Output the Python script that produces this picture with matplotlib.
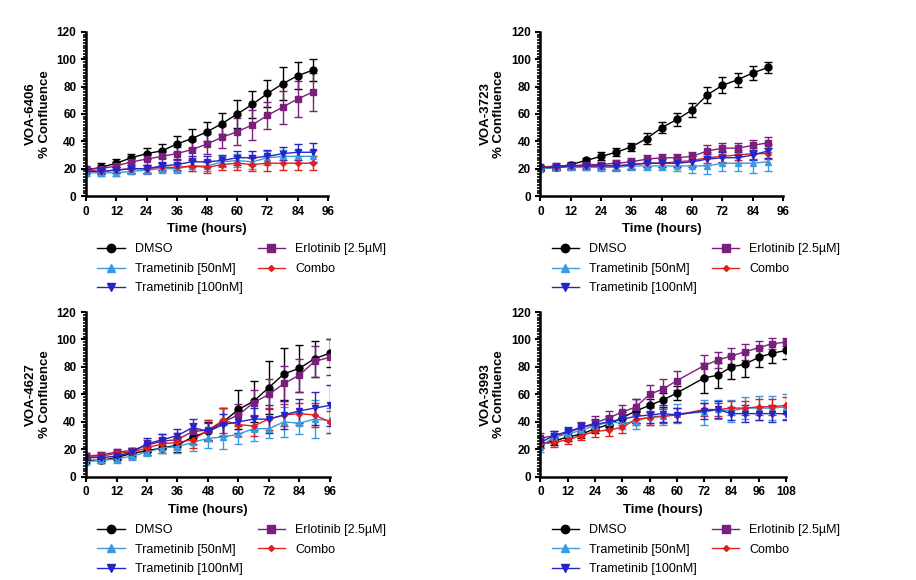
import numpy as np
import matplotlib.pyplot as plt
from matplotlib.lines import Line2D
from matplotlib.ticker import MultipleLocator

plt.rcParams['font.family'] = 'Liberation Sans'

STYLE = {
    'DMSO': dict(color='black', marker='o'),
    'Erlotinib [2.5µM]': dict(color='#7b1f7e', marker='s'),
    'Trametinib [50nM]': dict(color='#3a9ae0', marker='^'),
    'Combo': dict(color='#e0201e', marker='D', markersize=3),
    'Trametinib [100nM]': dict(color='#2424c8', marker='v'),
}
ORDER = ['DMSO', 'Erlotinib [2.5µM]', 'Trametinib [50nM]', 'Combo', 'Trametinib [100nM]']
LEGEND_ORDER = ['DMSO', 'Trametinib [50nM]', 'Trametinib [100nM]', 'Erlotinib [2.5µM]', 'Combo']

t90 = np.arange(0, 91, 6)
t96 = np.arange(0, 97, 6)
t108 = np.array([0, 6, 12, 18, 24, 30, 36, 42, 48, 54, 60, 72, 78, 84, 90, 96, 102, 108])

panels = [
    dict(name='VOA-6406', t=t90, xmax=96, pos=[0.094, 0.662, 0.264, 0.283], data={
        'DMSO': ([19, 21, 24, 28, 31, 33, 38, 42, 47, 53, 60, 67, 75, 82, 88, 92],
                 [2, 3, 3, 3, 4, 5, 6, 7, 7, 8, 10, 10, 10, 12, 10, 8]),
        'Erlotinib [2.5µM]': ([20, 20, 22, 25, 27, 29, 31, 34, 38, 43, 47, 52, 59, 65, 71, 76],
                              [2, 3, 3, 4, 4, 5, 5, 6, 7, 8, 10, 11, 10, 12, 13, 14]),
        'Trametinib [50nM]': ([17, 17, 17, 18, 19, 20, 20, 22, 22, 25, 26, 25, 28, 29, 29, 29],
                              [2, 2, 2, 2, 3, 3, 3, 4, 4, 4, 5, 5, 5, 5, 5, 5]),
        'Combo': ([19, 18, 19, 20, 20, 21, 21, 22, 21, 23, 24, 23, 24, 24, 24, 24],
                  [2, 2, 2, 3, 3, 3, 3, 4, 4, 4, 5, 5, 6, 5, 5, 5]),
        'Trametinib [100nM]': ([18, 18, 19, 20, 20, 22, 23, 25, 25, 26, 28, 28, 29, 31, 32, 32],
                               [2, 2, 2, 3, 3, 3, 4, 4, 4, 4, 5, 5, 5, 5, 6, 7]),
    }),
    dict(name='VOA-3723', t=t90, xmax=96, pos=[0.590, 0.662, 0.265, 0.283], data={
        'DMSO': ([20, 21, 23, 26, 29, 32, 36, 42, 50, 56, 63, 74, 81, 85, 90, 94],
                 [2, 2, 2, 2, 3, 3, 3, 4, 4, 5, 5, 6, 6, 5, 5, 4]),
        'Erlotinib [2.5µM]': ([21, 22, 22, 23, 23, 24, 25, 27, 28, 28, 29, 33, 35, 35, 37, 39],
                              [2, 2, 2, 2, 2, 2, 3, 3, 3, 3, 3, 4, 4, 4, 4, 4]),
        'Trametinib [50nM]': ([20, 21, 21, 21, 21, 21, 22, 22, 22, 22, 22, 22, 24, 24, 24, 25],
                              [2, 2, 2, 2, 3, 3, 3, 3, 3, 4, 5, 6, 6, 6, 7, 7]),
        'Combo': ([21, 21, 22, 22, 22, 22, 23, 24, 24, 25, 26, 28, 29, 30, 31, 31],
                  [2, 2, 2, 2, 2, 3, 3, 3, 3, 3, 3, 4, 4, 4, 4, 4]),
        'Trametinib [100nM]': ([21, 21, 22, 22, 22, 22, 23, 24, 24, 24, 25, 27, 28, 28, 30, 33],
                               [2, 2, 2, 2, 2, 3, 3, 3, 3, 3, 4, 4, 4, 4, 4, 5]),
    }),
    dict(name='VOA-4627', t=t96, xmax=96, pos=[0.094, 0.178, 0.266, 0.284], data={
        'DMSO': ([12, 12, 14, 17, 19, 21, 23, 29, 33, 40, 49, 55, 65, 75, 79, 86, 90],
                 [2, 2, 2, 3, 3, 4, 5, 5, 7, 10, 14, 15, 19, 19, 17, 13, 10]),
        'Erlotinib [2.5µM]': ([15, 16, 18, 19, 23, 26, 27, 33, 34, 40, 45, 54, 60, 68, 74, 84, 87],
                              [2, 2, 2, 2, 4, 5, 5, 6, 7, 10, 8, 9, 11, 13, 12, 11, 13]),
        'Trametinib [50nM]': ([11, 12, 13, 15, 18, 21, 22, 25, 28, 29, 31, 35, 35, 40, 39, 42, 41],
                              [2, 2, 3, 3, 3, 4, 5, 6, 7, 9, 7, 9, 7, 11, 8, 14, 9]),
        'Combo': ([15, 15, 17, 18, 21, 24, 25, 27, 34, 41, 38, 37, 42, 45, 46, 45, 40],
                  [2, 2, 2, 3, 3, 4, 5, 6, 7, 9, 8, 7, 8, 8, 8, 9, 8]),
        'Trametinib [100nM]': ([14, 14, 15, 18, 24, 27, 30, 36, 33, 38, 40, 42, 42, 45, 48, 50, 52],
                               [2, 2, 2, 3, 4, 4, 5, 6, 6, 8, 8, 8, 10, 10, 9, 12, 15]),
    }),
    dict(name='VOA-3993', t=t108, xmax=108, pos=[0.590, 0.178, 0.268, 0.284], data={
        'DMSO': ([24, 26, 29, 31, 35, 38, 43, 48, 52, 56, 61, 72, 74, 80, 82, 87, 90, 92],
                 [3, 3, 3, 3, 3, 3, 4, 9, 5, 5, 5, 11, 9, 9, 9, 7, 7, 6]),
        'Erlotinib [2.5µM]': ([28, 30, 32, 36, 39, 43, 47, 51, 60, 64, 70, 81, 85, 88, 91, 94, 97, 98],
                              [4, 3, 3, 4, 5, 5, 5, 6, 7, 7, 7, 8, 6, 6, 6, 5, 4, 3]),
        'Trametinib [50nM]': ([22, 29, 31, 34, 37, 40, 39, 40, 44, 44, 46, 47, 49, 48, 50, 50, 50, 51],
                              [4, 3, 3, 3, 4, 4, 4, 5, 6, 6, 7, 9, 7, 8, 8, 9, 9, 9]),
        'Combo': ([24, 25, 27, 30, 33, 34, 36, 42, 43, 44, 45, 49, 49, 50, 50, 51, 51, 52],
                  [3, 3, 3, 3, 4, 4, 4, 4, 5, 5, 5, 5, 5, 5, 5, 6, 6, 6]),
        'Trametinib [100nM]': ([25, 30, 33, 36, 38, 40, 42, 44, 45, 46, 45, 48, 49, 46, 46, 46, 46, 46],
                               [3, 3, 3, 3, 4, 4, 4, 5, 6, 6, 5, 6, 6, 5, 6, 5, 6, 5]),
    }),
]


def draw_panel(fig, p):
    ax = fig.add_axes(p['pos'])
    for key in ORDER:
        y, e = p['data'][key]
        st = dict(STYLE[key])
        ms = st.pop('markersize', 5)
        ax.errorbar(p['t'], y, yerr=e, lw=1, capsize=3, elinewidth=1,
                    markersize=ms, label=key, **st)
    ax.set_xlim(0, p['xmax'])
    ax.set_ylim(0, 120)
    ax.xaxis.set_major_locator(MultipleLocator(12))
    ax.yaxis.set_major_locator(MultipleLocator(20))
    ax.yaxis.set_minor_locator(MultipleLocator(2))
    ax.spines['top'].set_visible(False)
    ax.spines['right'].set_visible(False)
    ax.spines['left'].set_linewidth(1.8)
    ax.spines['bottom'].set_linewidth(1.8)
    ax.tick_params(width=1.5, labelsize=8.5)
    ax.tick_params(which='minor', length=2.5, width=1.2)
    for lab in ax.get_xticklabels() + ax.get_yticklabels():
        lab.set_fontweight('bold')
    ax.set_xlabel('Time (hours)', fontsize=9.5, fontweight='bold')
    ax.set_ylabel(p['name'] + '\n% Confluence', fontsize=9.5, fontweight='bold')
    # legend handles: line + marker only, no error bars
    proxies = []
    for key in LEGEND_ORDER:
        st = dict(STYLE[key])
        ms = st.pop('markersize', 6)
        proxies.append(Line2D([], [], lw=1, markersize=ms, **st))
    ax.legend(proxies, LEGEND_ORDER, ncol=2, frameon=False,
              fontsize=9, loc='upper left', bbox_to_anchor=(0.0, -0.22),
              columnspacing=1.2, handlelength=2.2, labelspacing=0.6)


def main():
    fig = plt.figure(figsize=(9.16, 5.8), dpi=100)
    for p in panels:
        draw_panel(fig, p)
    fig.savefig('out.png', dpi=100)
    plt.close()


if __name__ == '__main__':
    main()
